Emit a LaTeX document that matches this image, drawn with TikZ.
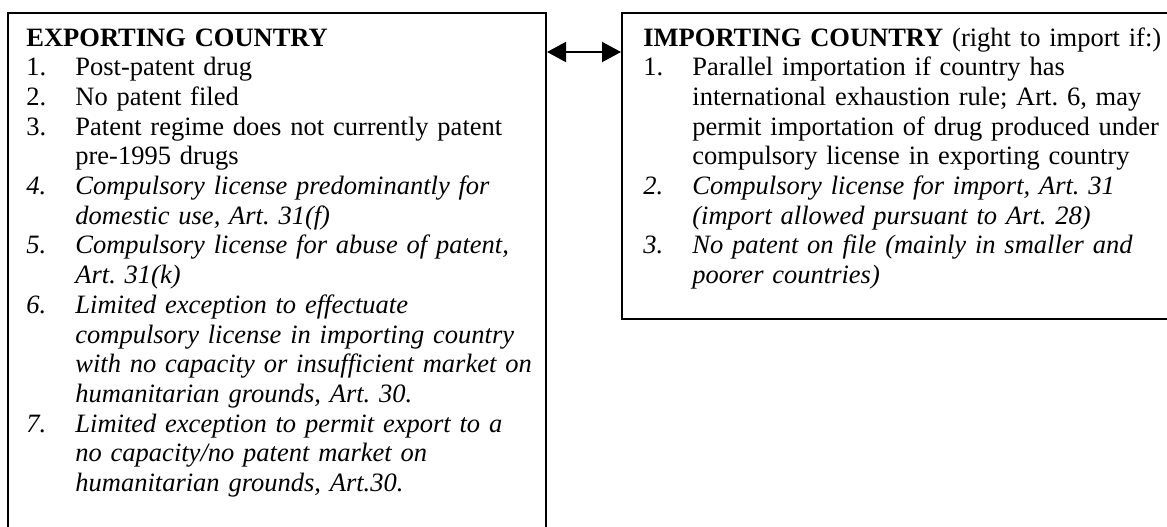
\documentclass[tikz,border=0pt]{standalone}
\usepackage{fontspec}
\setmainfont{Liberation Serif}
\usetikzlibrary{arrows.meta}
\newcommand\numbox[1]{\makebox[24.5pt][l]{#1}}
\newcommand\indbox{\hspace*{24.5pt}}
\frenchspacing
\begin{document}
\begin{tikzpicture}[x=0.5pt,y=-0.5pt,
  frame/.style={draw, line width=1pt, rectangle, inner sep=0pt, anchor=north west},
  lefttext/.style={anchor=base west, inner sep=0pt, align=left, text width=262pt, font=\fontsize{13.25pt}{14.85pt}\selectfont\frenchspacing},
  righttext/.style={anchor=base west, inner sep=0pt, align=left, text width=262pt, font=\fontsize{13.25pt}{14.85pt}\selectfont\frenchspacing},
  link/.style={line width=1pt, {Triangle[length=9.5pt,width=10pt]}-{Triangle[length=9.5pt,width=10pt]}}
]
\useasboundingbox (0,0) rectangle (1167,526);
\clip (0,0) rectangle (1167,526);
\node[frame, minimum width=269pt, minimum height=300pt] (expbox) at (7,12) {};
\node[frame, minimum width=290pt, minimum height=153pt] (impbox) at (621,12) {};
\coordinate (arrowlevel) at (0,52);
\draw[link] (expbox.east |- arrowlevel) -- (impbox.west |- arrowlevel);
\node[lefttext] (exptext) at (26,46) {%
{\bfseries EXPORTING COUNTRY}\\
\numbox{1.}Post-patent drug\\
\numbox{2.}No patent filed\\
\numbox{3.}Patent regime does not currently patent\\
\indbox pre-1995 drugs\\
\textit{\numbox{4.}Compulsory license predominantly for}\\
\indbox\textit{domestic use, Art. 31(f)}\\
\textit{\numbox{5.}Compulsory license for abuse of patent,}\\
\indbox\textit{Art. 31(k)}\\
\textit{\numbox{6.}Limited exception to effectuate}\\
\indbox\textit{compulsory license in importing country}\\
\indbox\textit{with no capacity or insufficient market on}\\
\indbox\textit{humanitarian grounds, Art. 30.}\\
\textit{\numbox{7.}Limited exception to permit export to a}\\
\indbox\textit{no capacity/no patent market on}\\
\indbox\textit{humanitarian grounds, Art.30.}};
\node[righttext] (imptext) at (643,46) {%
{\bfseries IMPORTING COUNTRY} (right to import if:)\\
\numbox{1.}Parallel importation if country has\\
\indbox international exhaustion rule; Art. 6, may\\
\indbox permit importation of drug produced under\\
\indbox compulsory license in exporting country\\
\textit{\numbox{2.}Compulsory license for import, Art. 31}\\
\indbox\textit{(import allowed pursuant to Art. 28)}\\
\textit{\numbox{3.}No patent on file (mainly in smaller and}\\
\indbox\textit{poorer countries)}};
\end{tikzpicture}
\end{document}
